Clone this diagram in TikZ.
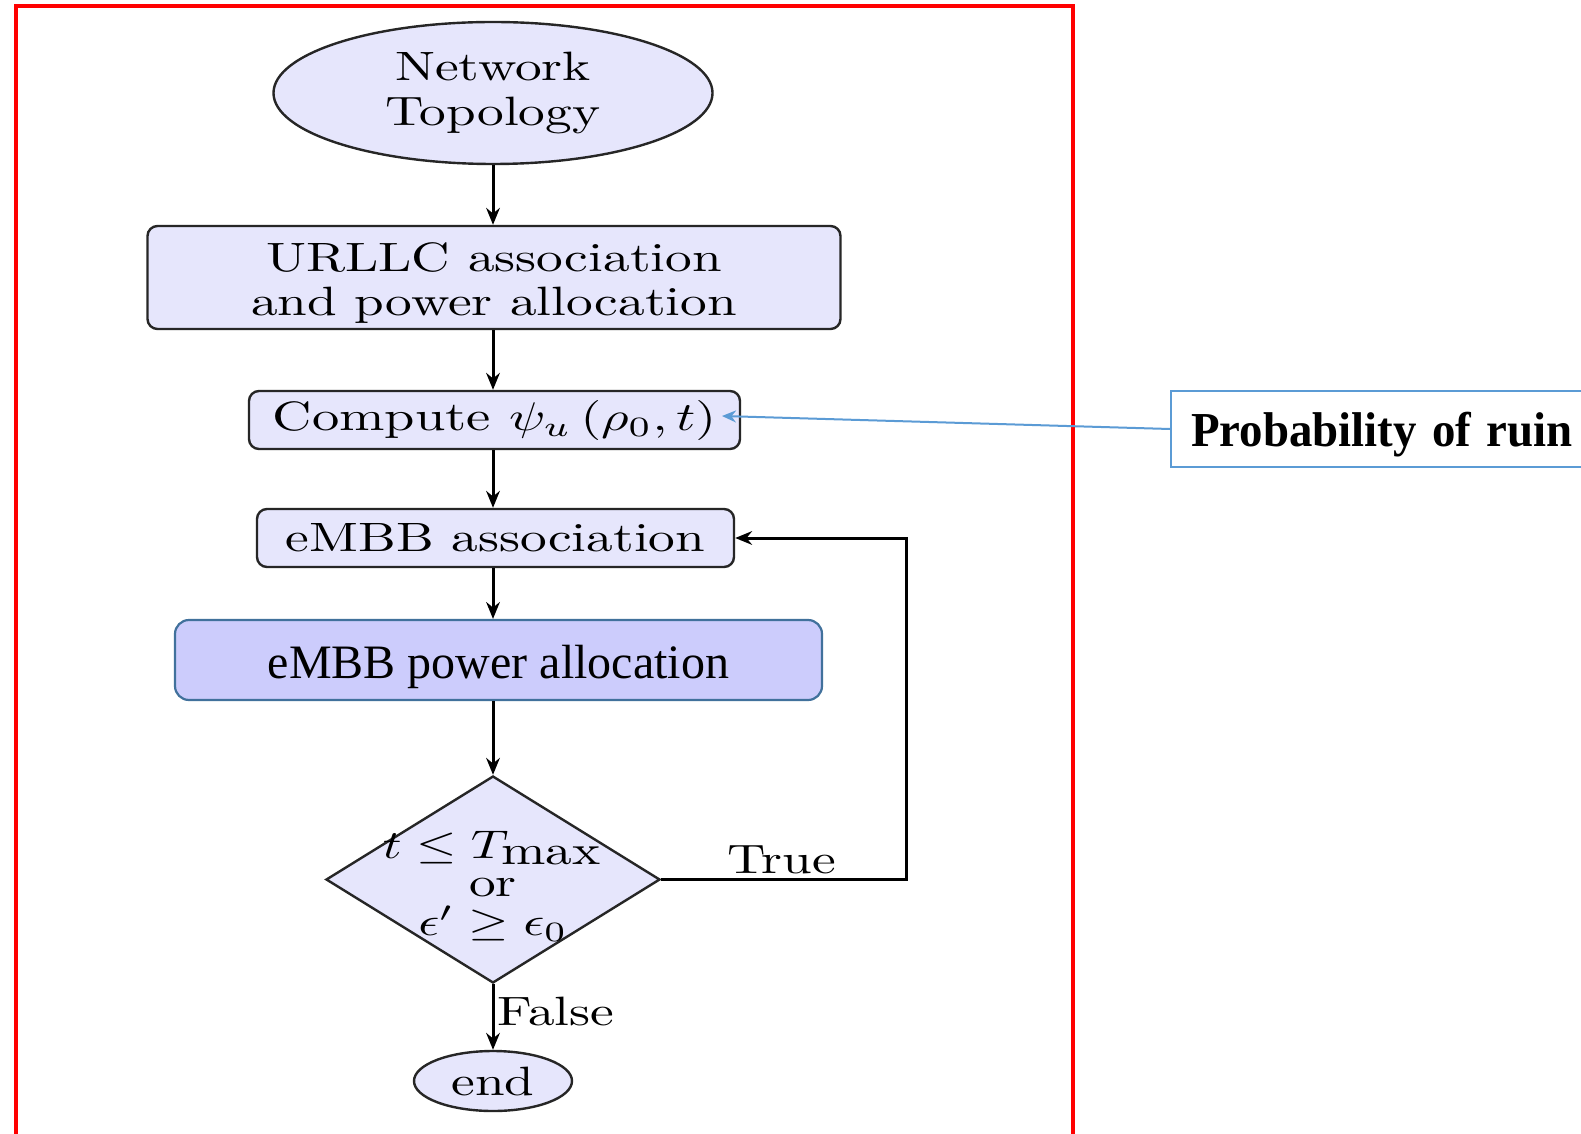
\documentclass[tikz,border=0pt]{standalone}
\usepackage{fontspec}
\usepackage{graphicx}
\usetikzlibrary{shapes.geometric,arrows.meta}
\newfontfamily\timesf{Liberation Serif}
\definecolor{lav}{RGB}{230,230,252}
\definecolor{lavdark}{RGB}{204,204,252}
\definecolor{steel}{RGB}{65,113,156}
\definecolor{skyline}{RGB}{91,155,213}
\newcommand{\wtxt}[1]{\scalebox{1.3}[1]{#1}}
\tikzset{
  cmfont/.style={font=\fontsize{10.25}{11}\selectfont},
  flowbox/.style={draw=black!85, line width=0.6pt, fill=lav, rounded corners=2.5pt,
    inner sep=0pt, align=center, cmfont},
  flowoval/.style={draw=black!85, line width=0.6pt, fill=lav, ellipse,
    inner sep=0pt, align=center, cmfont},
  flowarrow/.style={line width=0.75pt, -{Stealth[length=4.2pt,width=3.4pt]}},
  branchlbl/.style={cmfont, inner sep=0pt},
}
\begin{document}
\begin{tikzpicture}[x=0.25pt, y=-0.25pt]
\useasboundingbox (0,0) rectangle (1581,1133);
\fill[white] (0,0) rectangle (1581,1133);

% red frame, open at the bottom
\draw[red, line width=1pt] (16,1145) -- (16,6) -- (1073,6) -- (1073,1145);

% flowchart nodes
\node[flowoval, minimum width=109.75pt, minimum height=35.5pt] (topo) at (493,93)
  {\wtxt{Network}\\\wtxt{Topology}};
\node[flowbox, minimum width=173.25pt, minimum height=25.75pt] (urllc) at (494,277.5)
  {\rule{0pt}{10.2pt}\wtxt{URLLC association}\\\wtxt{and power allocation}};
\node[flowbox, minimum width=122.75pt, minimum height=14.5pt] (comp) at (494.5,420)
  {\scalebox{1.33}[1]{Compute $\psi_u\left(\rho_0,t\right)$}};
\node[flowbox, minimum width=119.25pt, minimum height=14.5pt] (assoc) at (495.5,538)
  {\wtxt{eMBB association}};
\node[draw=steel, line width=0.55pt, fill=lavdark, rounded corners=3.5pt,
  minimum width=161.75pt, minimum height=20pt, inner sep=0pt,
  font=\timesf\fontsize{12}{14}\selectfont] (power) at (498.5,660)
  {\rule{0pt}{11.8pt}eMBB power allocation};
\node[draw=black!85, line width=0.6pt, fill=lav, diamond, inner sep=0pt,
  minimum width=83.5pt, minimum height=51.75pt,
  label={[cmfont, align=center, inner sep=0pt, yshift=-1.8pt]center:%
    {\wtxt{$t\leq T_{\displaystyle\mathrm{max}}$}\\[-1.6pt]\wtxt{or}\\[-1.2pt]\wtxt{$\epsilon'\geq\epsilon_0$}}}]
  (dec) at (493,879.5) {};
\node[flowoval, minimum width=39.5pt, minimum height=15pt] (endn) at (493,1081)
  {\wtxt{end}};

% side note
\node[draw=skyline, line width=0.5pt, anchor=west, minimum width=110pt,
  minimum height=19pt, inner xsep=5pt, inner ysep=0pt, text width=100pt,
  font=\timesf\bfseries\fontsize{12.2}{14}\selectfont] (prob) at (1170,429)
  {\rule{0pt}{11.5pt}\scalebox{0.96}[1]{Probability of ruin}};
\coordinate (probtip) at (722,416);

% connectors along the main axis
\draw[flowarrow] (topo.south) -- (urllc.north -| topo.south);
\draw[flowarrow] (urllc.south -| topo.south) -- (comp.north -| topo.south);
\draw[flowarrow] (comp.south -| topo.south) -- (assoc.north -| topo.south);
\draw[flowarrow] (assoc.south -| topo.south) -- (power.north -| topo.south);
\draw[flowarrow] (power.south -| topo.south) -- (dec.north);
\draw[flowarrow] (dec.south) -- (endn.north);
\draw[flowarrow] (dec.east) -- ++(245,0) |- (assoc.east);
\node[branchlbl] (truelbl) at (782,860) {\wtxt{True}};
\node[branchlbl, anchor=west] (falselbl) at (497,1011) {\wtxt{False}};
\draw[skyline, line width=0.5pt, -{Stealth[length=3.5pt,width=3pt]}] (prob.west) -- (probtip);
\end{tikzpicture}
\end{document}
